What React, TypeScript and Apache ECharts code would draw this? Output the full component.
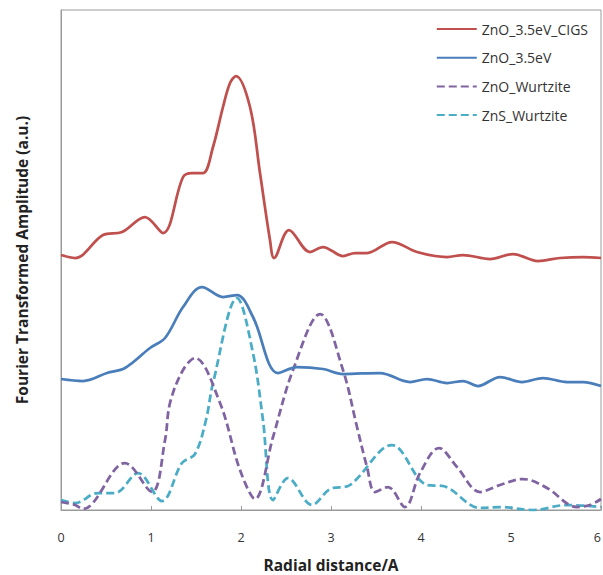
import React, { useEffect, useRef } from "react";
import * as echarts from "echarts";

const seriesNames = ["ZnO_3.5eV_CIGS", "ZnO_3.5eV", "ZnO_Wurtzite", "ZnS_Wurtzite"];
const xTicks = [0, 1, 2, 3, 4, 5, 6];

const redX = [0, 0.156, 0.467, 0.678, 0.933, 1.133, 1.356, 1.456, 1.578, 1.689, 1.8, 1.878, 1.944, 2.1, 2.211, 2.322, 2.367, 2.533, 2.767, 2.911, 3.133, 3.267, 3.4, 3.678, 3.956, 4.289, 4.467, 4.767, 5.022, 5.3, 5.544, 5.8, 6];
const redY = [51, 50.4, 55, 55.6, 58.6, 55.4, 66.6, 67.4, 67.4, 72.6, 80.6, 85.4, 86.8, 80.6, 67.4, 54, 50.4, 56, 51.6, 52.6, 50.8, 51.4, 51.4, 53.6, 51.6, 50.6, 51, 50.2, 51.2, 49.8, 50.4, 50.6, 50.4];

const blueX = [0, 0.244, 0.511, 0.711, 0.989, 1.156, 1.356, 1.567, 1.8, 1.956, 2.133, 2.411, 2.622, 2.911, 3.133, 3.544, 3.878, 4.067, 4.289, 4.467, 4.633, 4.878, 5.122, 5.356, 5.622, 5.8, 6];
const blueY = [26.2, 25.8, 27.4, 28.4, 32.4, 34.4, 40.6, 44.6, 42.6, 43, 38.6, 27.4, 28.6, 28.2, 27.2, 27.4, 25.6, 26.2, 25.4, 25.8, 24.8, 26.6, 25.6, 26.4, 25.6, 25.6, 24.8];

const purpleX = [0, 0.156, 0.244, 0.711, 1.011, 1.156, 1.211, 1.356, 1.489, 1.767, 1.989, 2.156, 2.356, 2.578, 2.878, 3.133, 3.289, 3.4, 3.489, 3.633, 3.822, 3.989, 4.2, 4.4, 4.656, 4.878, 5.133, 5.4, 5.733, 5.878, 6];
const purpleY = [1.6, 1, 0.2, 9.4, 3.6, 14, 21.4, 28, 30.4, 21.4, 8, 2.2, 14.6, 28, 39.2, 28, 16.6, 8.6, 3.6, 4.6, 0.6, 7.4, 12.4, 8.6, 3.6, 5, 6.2, 4.4, 0.6, 1, 2.2];

const cyanX = [0, 0.156, 0.411, 0.6, 0.856, 1.122, 1.344, 1.489, 1.611, 1.689, 1.956, 2.133, 2.244, 2.356, 2.522, 2.789, 2.989, 3.211, 3.678, 4.067, 4.244, 4.656, 4.878, 5.244, 5.622, 6];
const cyanY = [2, 1.4, 3.4, 3.4, 7.4, 1.8, 9.4, 11.2, 18, 25.4, 42.4, 31.4, 18, 2, 6.4, 1, 4.2, 5, 13, 5, 4.8, 0.4, 0.6, 0, 1, 0.6];

const colors = ["#C0504D", "#4A7EBB", "#8064A2", "#4BACC6"];

const zip = (xs: number[], ys: number[]) => xs.map((x, i) => [x, ys[i]]);

export default function App() {
  const ref = useRef<HTMLDivElement>(null);
  useEffect(() => {
    if (!ref.current) return;
    const chart = echarts.init(ref.current, undefined, { renderer: "svg" });
    const data = [zip(redX, redY), zip(blueX, blueY), zip(purpleX, purpleY), zip(cyanX, cyanY)];
    const dashed = [false, false, true, true];
    chart.setOption({
      animation: false,
      grid: {
        left: 61,
        right: 2,
        top: 10,
        bottom: 65,
        outerBoundsMode: "none",
        containLabel: false,
        show: true,
        borderColor: "#9a9a9a",
        borderWidth: 1,
      },
      legend: {
        data: seriesNames,
        orient: "vertical",
        right: 10,
        top: 17,
        itemWidth: 40,
        itemHeight: 14,
        itemGap: 14.7,
        itemStyle: { opacity: 0, borderWidth: 0 },
        textStyle: { fontFamily: "Open Sans", fontSize: 14, color: "#333" },
      },
      xAxis: {
        type: "value",
        min: 0,
        max: 6,
        interval: 1,
        data: xTicks,
        name: "Radial distance/A",
        nameLocation: "middle",
        nameGap: 46,
        nameTextStyle: { fontFamily: "Open Sans", fontSize: 15.5, lineHeight: 17, fontWeight: "bold", color: "#222" },
        axisLine: { lineStyle: { color: "#9a9a9a", width: 1 } },
        axisTick: { inside: true, length: 4, lineStyle: { color: "#9a9a9a" } },
        axisLabel: { margin: 21, fontFamily: "Open Sans", fontSize: 12.5, color: "#333", alignMaxLabel: "right" },
        splitLine: { show: false },
      },
      yAxis: {
        type: "value",
        min: 0,
        max: 100,
        name: "Fourier Transformed Amplitude (a.u.)",
        nameLocation: "middle",
        nameGap: 31,
        nameRotate: 90,
        nameTextStyle: { fontFamily: "Open Sans", fontSize: 15.5, fontWeight: "bold", color: "#222" },
        axisLine: { show: true, lineStyle: { color: "#9a9a9a", width: 1 } },
        axisTick: { show: false },
        axisLabel: { show: false },
        splitLine: { show: false },
      },
      series: seriesNames.map((name, i) => ({
        name,
        type: "line",
        data: data[i],
        smooth: 0.35,
        showSymbol: false,
        symbol: "none",
        color: colors[i],
        lineStyle: { color: colors[i], width: 2.75, type: dashed[i] ? [8, 4] : "solid" },
        z: 4 - i,
      })),
    });
    return () => chart.dispose();
  }, []);
  return <div ref={ref} style={{ position: "absolute", left: 0, top: 0, width: 603, height: 575 }} />;
}
